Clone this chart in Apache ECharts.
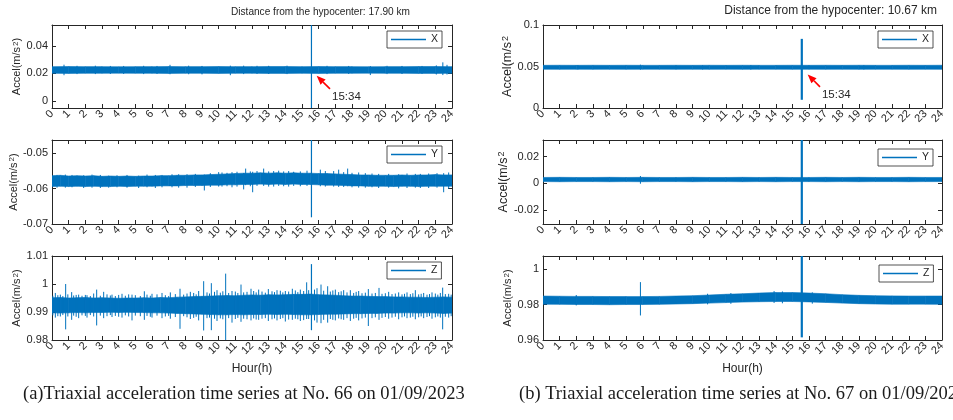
<!DOCTYPE html>
<html><head><meta charset="utf-8">
<script src="https://cdn.jsdelivr.net/npm/echarts@6/dist/echarts.min.js"></script>
<style>html,body{margin:0;padding:0;background:#fff}#c{width:953px;height:420px}</style>
</head><body><div id="c"></div>
<script>
// ---------- data ----------
const hourTickLabels = ['0','1','2','3','4','5','6','7','8','9','10','11','12','13','14','15','16','17','18','19','20','21','22','23','24'];
const hourly = [0,1,2,3,4,5,6,7,8,9,10,11,12,13,14,15,16,17,18,19,20,21,22,23,24];
const halfHourly = [0,0.5,1,1.5,2,2.5,3,3.5,4,4.5,5,5.5,6,6.5,7,7.5,8,8.5,9,9.5,10,10.5,11,11.5,12,12.5,13,13.5,14,14.5,15,15.5,16,16.5,17,17.5,18,18.5,19,19.5,20,20.5,21,21.5,22,22.5,23,23.5,24];

// (a) No. 66 — X
const aXLo = [0.0201,0.0200,0.0201,0.0201,0.0202,0.0201,0.0201,0.0200,0.0201,0.0201,0.0200,0.0201,0.0201,0.0200,0.0200,0.0201,0.0200,0.0201,0.0201,0.0202,0.0201,0.0201,0.0200,0.0200,0.0201];
const aXHi = [0.0249,0.0250,0.0249,0.0249,0.0248,0.0249,0.0249,0.0250,0.0249,0.0249,0.0250,0.0249,0.0249,0.0250,0.0250,0.0249,0.0250,0.0249,0.0249,0.0248,0.0249,0.0249,0.0250,0.0250,0.0249];
const aXSpikes = [[0.72,0.0187,0.0263],[1.5,0.0195,0.0255],[2.6,0.0195,0.0256],[3.5,0.0196,0.0254],[4.3,0.0196,0.0254],[5.5,0.0195,0.0255],[6.3,0.0196,0.0254],[7.08,0.0194,0.0262],[8.2,0.0194,0.0256],[9.0,0.0193,0.0254],[10.7,0.0187,0.0256],[11.5,0.0195,0.0256],[12.3,0.0196,0.0255],[13.0,0.0196,0.0255],[14.1,0.0195,0.0256],[15.567,-0.005,0.055],[16.5,0.0195,0.0255],[17.8,0.0196,0.0254],[19.1,0.0188,0.0253],[20.1,0.0195,0.0255],[21.0,0.0196,0.0254],[22.2,0.0196,0.0254],[23.06,0.0192,0.0258],[23.45,0.0188,0.0280],[23.7,0.0192,0.0262]];
// (a) No. 66 — Y
const aYHi = [-0.0563,-0.0562,-0.0564,-0.0563,-0.0564,-0.0563,-0.0565,-0.0564,-0.0565,-0.0564,-0.0565,-0.0564,-0.0564,-0.0563,-0.0563,-0.0562,-0.0562,-0.0561,-0.0561,-0.0560,-0.0559,-0.0558,-0.0557,-0.0556,-0.0556,-0.0555,-0.0556,-0.0555,-0.0556,-0.0555,-0.0556,-0.0556,-0.0557,-0.0557,-0.0558,-0.0559,-0.0560,-0.0561,-0.0561,-0.0562,-0.0562,-0.0562,-0.0561,-0.0562,-0.0561,-0.0561,-0.0560,-0.0561,-0.0561];
const aYLo = [-0.0594,-0.0593,-0.0594,-0.0593,-0.0594,-0.0593,-0.0594,-0.0594,-0.0593,-0.0594,-0.0593,-0.0593,-0.0593,-0.0592,-0.0592,-0.0592,-0.0591,-0.0591,-0.0591,-0.0590,-0.0590,-0.0589,-0.0589,-0.0588,-0.0588,-0.0587,-0.0588,-0.0587,-0.0588,-0.0587,-0.0588,-0.0588,-0.0589,-0.0590,-0.0590,-0.0591,-0.0592,-0.0592,-0.0593,-0.0593,-0.0593,-0.0594,-0.0593,-0.0593,-0.0594,-0.0593,-0.0593,-0.0593,-0.0593];
const aYSpikes = [[0.3,-0.0597,-0.0561],[0.8,-0.0597,-0.0560],[1.2,-0.0596,-0.0561],[1.9,-0.0598,-0.0562],[2.4,-0.0597,-0.0560],[2.9,-0.0598,-0.0561],[3.4,-0.0597,-0.0563],[3.9,-0.0596,-0.0562],[4.5,-0.0597,-0.0561],[5.2,-0.0598,-0.0563],[5.7,-0.0596,-0.0560],[6.2,-0.0598,-0.0561],[6.6,-0.0596,-0.0561],[7.2,-0.0596,-0.0559],[7.6,-0.0597,-0.0559],[8.1,-0.0597,-0.0559],[8.6,-0.0595,-0.0558],[9.14,-0.0605,-0.0560],[9.5,-0.0595,-0.0556],[10.0,-0.0594,-0.0553],[10.2,-0.0594,-0.0554],[10.5,-0.0593,-0.0555],[10.8,-0.0596,-0.0553],[11.1,-0.0594,-0.0552],[11.5,-0.0602,-0.0556],[11.62,-0.0590,-0.0543],[11.9,-0.0593,-0.0551],[12.04,-0.0610,-0.0552],[12.3,-0.0592,-0.0550],[12.7,-0.0592,-0.0543],[13.0,-0.0594,-0.0551],[13.3,-0.0594,-0.0550],[13.6,-0.0592,-0.0549],[13.9,-0.0593,-0.0551],[14.2,-0.0594,-0.0550],[14.5,-0.0592,-0.0552],[14.9,-0.0593,-0.0551],[15.3,-0.0592,-0.0549],[15.567,-0.0681,-0.0462],[16.1,-0.0593,-0.0546],[16.4,-0.0594,-0.0550],[16.9,-0.0594,-0.0550],[17.2,-0.0595,-0.0546],[17.5,-0.0595,-0.0553],[17.74,-0.0593,-0.0543],[18.0,-0.0596,-0.0555],[18.4,-0.0597,-0.0554],[18.8,-0.0597,-0.0556],[19.2,-0.0596,-0.0557],[19.6,-0.0598,-0.0558],[20.2,-0.0597,-0.0558],[20.8,-0.0599,-0.0559],[21.3,-0.0598,-0.0557],[21.8,-0.0597,-0.0558],[22.1,-0.0598,-0.0558],[22.6,-0.0598,-0.0557],[23.1,-0.0597,-0.0556],[23.5,-0.0610,-0.0556],[23.8,-0.0600,-0.0554]];
// (a) No. 66 — Z
const aZHi = [0.9951,0.9952,0.9950,0.9951,0.9952,0.9950,0.9951,0.9950,0.9949,0.9950,0.9950,0.9951,0.9950,0.9952,0.9951,0.9953,0.9954,0.9955,0.9956,0.9957,0.9958,0.9959,0.9958,0.9960,0.9961,0.9960,0.9962,0.9961,0.9962,0.9963,0.9963,0.9964,0.9962,0.9961,0.9960,0.9958,0.9957,0.9957,0.9956,0.9955,0.9955,0.9954,0.9954,0.9953,0.9953,0.9952,0.9953,0.9954,0.9953];
const aZLo = [0.9897,0.9896,0.9897,0.9898,0.9897,0.9898,0.9898,0.9899,0.9898,0.9899,0.9898,0.9898,0.9897,0.9897,0.9896,0.9895,0.9894,0.9893,0.9892,0.9891,0.9890,0.9890,0.9891,0.9890,0.9891,0.9891,0.9892,0.9891,0.9892,0.9891,0.9890,0.9890,0.9891,0.9892,0.9892,0.9893,0.9894,0.9894,0.9895,0.9895,0.9896,0.9896,0.9897,0.9897,0.9896,0.9897,0.9896,0.9895,0.9896];
const aZSpikes = [[0.05,0.9888,0.9958],[0.2,0.9880,0.9968],[0.35,0.9885,0.9960],[0.5,0.9884,0.9962],[0.65,0.9889,0.9957],[0.82,0.9838,1.0000],[0.95,0.9884,0.9963],[1.18,0.9872,0.9971],[1.3,0.9887,0.9959],[1.45,0.9883,0.9961],[1.6,0.9878,0.9962],[1.8,0.9888,0.9958],[2.0,0.9886,0.9961],[2.1,0.9880,0.9960],[2.3,0.9889,0.9957],[2.5,0.9884,0.9966],[2.68,0.9852,0.9980],[2.9,0.9887,0.9958],[3.1,0.9878,0.9972],[3.3,0.9885,0.9963],[3.5,0.9889,0.9959],[3.6,0.9882,0.9962],[3.8,0.9886,0.9957],[4.0,0.9883,0.9961],[4.2,0.9880,0.9965],[4.4,0.9888,0.9958],[4.6,0.9884,0.9963],[4.8,0.9870,0.9962],[5.0,0.9887,0.9960],[5.3,0.9885,0.9957],[5.54,0.9872,0.9974],[5.7,0.9886,0.9962],[5.9,0.9883,0.9958],[6.0,0.9880,0.9965],[6.3,0.9887,0.9963],[6.6,0.9878,0.9968],[6.8,0.9884,0.9960],[7.0,0.9886,0.9957],[7.1,0.9876,0.9970],[7.4,0.9882,0.9964],[7.68,0.9840,0.9983],[7.9,0.9885,0.9962],[8.1,0.9881,0.9966],[8.3,0.9875,0.9972],[8.5,0.9879,0.9968],[8.65,0.9883,0.9963],[8.8,0.9870,0.9975],[9.1,0.9834,1.0010],[9.3,0.9878,0.9970],[9.45,0.9880,0.9966],[9.56,0.9835,1.0003],[9.75,0.9876,0.9972],[9.9,0.9868,0.9978],[10.1,0.9877,0.9969],[10.25,0.9874,0.9974],[10.42,0.9800,1.0037],[10.6,0.9878,0.9968],[10.8,0.9862,0.9975],[11.0,0.9875,0.9973],[11.15,0.9879,0.9968],[11.34,0.9865,0.9998],[11.5,0.9876,0.9970],[11.7,0.9874,0.9972],[11.94,0.9870,0.9983],[12.1,0.9877,0.9975],[12.25,0.9873,0.9970],[12.4,0.9872,0.9980],[12.6,0.9876,0.9973],[12.8,0.9878,0.9969],[12.98,0.9868,0.9982],[13.2,0.9874,0.9974],[13.35,0.9877,0.9971],[13.5,0.9870,0.9978],[13.7,0.9875,0.9976],[13.85,0.9878,0.9970],[14.0,0.9866,0.9975],[14.2,0.9873,0.9973],[14.42,0.9872,0.9983],[14.6,0.9876,0.9977],[14.75,0.9874,0.9971],[14.9,0.9868,0.9980],[15.1,0.9871,0.9975],[15.28,0.9875,1.0006],[15.4,0.9875,0.9978],[15.567,0.9835,1.0071],[15.75,0.9870,0.9980],[15.9,0.9862,0.9985],[16.14,0.9860,0.9998],[16.3,0.9872,0.9976],[16.54,0.9862,0.9992],[16.7,0.9875,0.9973],[16.85,0.9872,0.9977],[17.0,0.9870,0.9980],[17.2,0.9877,0.9971],[17.35,0.9874,0.9974],[17.5,0.9872,0.9978],[17.7,0.9878,0.9970],[17.9,0.9868,0.9978],[18.1,0.9876,0.9968],[18.25,0.9879,0.9972],[18.4,0.9870,0.9975],[18.6,0.9877,0.9967],[18.8,0.9880,0.9969],[18.98,0.9850,0.9982],[19.2,0.9878,0.9966],[19.4,0.9881,0.9968],[19.62,0.9872,0.9986],[19.8,0.9879,0.9965],[20.0,0.9882,0.9967],[20.2,0.9876,0.9972],[20.4,0.9880,0.9964],[20.6,0.9883,0.9966],[20.8,0.9874,0.9970],[21.0,0.9881,0.9963],[21.15,0.9884,0.9965],[21.3,0.9878,0.9970],[21.5,0.9880,0.9964],[21.65,0.9883,0.9967],[21.8,0.9874,0.9978],[22.0,0.9881,0.9963],[22.15,0.9884,0.9965],[22.3,0.9878,0.9968],[22.5,0.9882,0.9962],[22.65,0.9885,0.9964],[22.8,0.9876,0.9970],[23.0,0.9881,0.9966],[23.15,0.9884,0.9962],[23.3,0.9880,0.9968],[23.44,0.9838,0.9987],[23.6,0.9883,0.9964],[23.8,0.9880,0.9965],[23.95,0.9885,0.9962]];

// (b) No. 67 — X
const bXLo = [0.0467,0.0466,0.0467,0.0466,0.0467,0.0466,0.0467,0.0467,0.0466,0.0467,0.0466,0.0467,0.0466,0.0467,0.0467,0.0466,0.0467,0.0466,0.0467,0.0466,0.0467,0.0467,0.0466,0.0467,0.0466];
const bXHi = [0.0514,0.0515,0.0514,0.0515,0.0514,0.0515,0.0514,0.0514,0.0515,0.0514,0.0515,0.0514,0.0515,0.0514,0.0514,0.0515,0.0514,0.0515,0.0514,0.0515,0.0514,0.0514,0.0515,0.0514,0.0515];
const bXSpikes = [[2.1,0.0464,0.0517],[5.86,0.0462,0.0522],[9.6,0.0464,0.0516],[12.5,0.0463,0.0517],[15.567,0.0099,0.0833],[19.3,0.0464,0.0516]];
// (b) No. 67 — Y
const bYLo = [0.0013,0.0012,0.0013,0.0013,0.0012,0.0013,0.0012,0.0013,0.0013,0.0012,0.0013,0.0013,0.0012,0.0013,0.0012,0.0013,0.0013,0.0012,0.0013,0.0012,0.0013,0.0013,0.0012,0.0013,0.0013];
const bYHi = [0.0044,0.0045,0.0044,0.0044,0.0045,0.0044,0.0045,0.0044,0.0044,0.0045,0.0044,0.0044,0.0045,0.0044,0.0045,0.0044,0.0044,0.0045,0.0044,0.0045,0.0044,0.0044,0.0045,0.0044,0.0044];
const bYSpikes = [[5.86,-0.0003,0.0055],[15.567,-0.0305,0.0325]];
// (b) No. 67 — Z
const bZHi = [0.9849,0.9848,0.9847,0.9847,0.9846,0.9846,0.9846,0.9847,0.9849,0.9851,0.9855,0.9859,0.9862,0.9866,0.9869,0.9869,0.9866,0.9862,0.9857,0.9853,0.9851,0.9850,0.9849,0.9849,0.9849];
const bZLo = [0.9803,0.9802,0.9801,0.9801,0.9800,0.9801,0.9801,0.9802,0.9804,0.9806,0.9809,0.9812,0.9815,0.9817,0.9818,0.9818,0.9816,0.9813,0.9809,0.9806,0.9804,0.9803,0.9803,0.9803,0.9802];
const bZSpikes = [[2.0,0.9796,0.9855],[5.86,0.9739,0.9928],[9.9,0.9802,0.9862],[11.3,0.9805,0.9866],[13.9,0.9810,0.9877],[14.4,0.9808,0.9875],[15.567,0.9615,1.0076],[16.2,0.9806,0.9870]];

// axis ranges and y tick values
const aXRange = [-0.005, 0.055], aXTicks = [0, 0.02, 0.04];
const aYRange = [-0.07, -0.0462], aYTicks = [-0.07, -0.06, -0.05];
const aZRange = [0.98, 1.01], aZTicks = [0.98, 0.99, 1, 1.01];
const bXRange = [0, 0.1], bXTicks = [0, 0.05, 0.1];
const bYRange = [-0.0305, 0.0325], bYTicks = [-0.02, 0, 0.02];
const bZRange = [0.96, 1.0076], bZTicks = [0.96, 0.98, 1];

// event annotation: [tail hour, tail value, tip hour, tip value]
const eventLabel = '15:34';
const aXArrow = [16.68, 0.0088, 15.88, 0.0183];
const bXArrow = [16.66, 0.0254, 15.92, 0.0405];

const titleA = 'Distance from the hypocenter: 17.90 km';
const titleB = 'Distance from the hypocenter: 10.67 km';
const captionA = '(a)Triaxial acceleration time series at No. 66 on 01/09/2023';
const captionB = '(b) Triaxial acceleration time series at No. 67 on 01/09/2023';

// ---------- chart ----------
const BLUE = '#0072BD';
const INK = '#262626';
const SANS = 'Liberation Sans, Arial, sans-serif';

const colLeft = [52, 543], colWidth = [400, 399];
const rowTop = [25, 140, 256], rowHeight = [83, 84, 84];
const legendPos = [[[387,31],[387,146],[387,262]], [[878,31],[878,149],[879,265]]];

const panels = [
  {c:0,r:0,name:'X',t:hourly,lo:aXLo,hi:aXHi,sp:aXSpikes,range:aXRange,ticks:aXTicks,yName:'Accel(m/s{s|2})',ySize:11,arrow:aXArrow,evW:1.2},
  {c:0,r:1,name:'Y',t:halfHourly,lo:aYLo,hi:aYHi,sp:aYSpikes,range:aYRange,ticks:aYTicks,yName:'Accel(m/s{s|2})',ySize:11,evW:1.2},
  {c:0,r:2,name:'Z',t:halfHourly,lo:aZLo,hi:aZHi,sp:aZSpikes,range:aZRange,ticks:aZTicks,yName:'Accel(m/s{s|2})',ySize:11,evW:1.2},
  {c:1,r:0,name:'X',t:hourly,lo:bXLo,hi:bXHi,sp:bXSpikes,range:bXRange,ticks:bXTicks,yName:'Accel(m/s{s|2}',ySize:12.5,arrow:bXArrow,evW:2.2},
  {c:1,r:1,name:'Y',t:hourly,lo:bYLo,hi:bYHi,sp:bYSpikes,range:bYRange,ticks:bYTicks,yName:'Accel(m/s{s|2}',ySize:12.5,evW:2.2},
  {c:1,r:2,name:'Z',t:hourly,lo:bZLo,hi:bZHi,sp:bZSpikes,range:bZRange,ticks:bZTicks,yName:'Accel(m/s{s|2})',ySize:11,evW:2.2}
];

function fmt(v){ return String(Math.round(v*1e6)/1e6); }

const grid=[], xAxis=[], yAxis=[], series=[], legend=[];
panels.forEach((p,i)=>{
  grid.push({left:colLeft[p.c], top:rowTop[p.r], width:colWidth[p.c], height:rowHeight[p.r], outerBoundsMode:'none'});
  const base = {gridIndex:i, type:'value', min:0, max:24, interval:1,
    axisLine:{show:true,onZero:false,lineStyle:{color:INK,width:1}},
    axisTick:{show:true,inside:true,length:4,lineStyle:{color:INK,width:1}},
    splitLine:{show:false}};
  xAxis.push(Object.assign({}, base, {position:'bottom',
    axisLabel:{show:true,rotate:45,margin:4,fontSize:11,color:INK,fontFamily:SANS,formatter:v=>hourTickLabels[Math.round(v)]},
    name: p.r===2 ? 'Hour(h)' : '', nameLocation:'middle', nameGap:23,
    nameTextStyle:{fontSize:12,color:INK,fontFamily:SANS}}));
  xAxis.push(Object.assign({}, base, {position:'top', axisLabel:{show:false}}));
  const ybase = {gridIndex:i, type:'value', min:p.range[0], max:p.range[1],
    axisLine:{show:true,onZero:false,lineStyle:{color:INK,width:1}},
    axisTick:{show:true,inside:true,length:4,customValues:p.ticks,lineStyle:{color:INK,width:1}},
    splitLine:{show:false}};
  yAxis.push(Object.assign({}, ybase, {position:'left',
    axisLabel:{show:true,customValues:p.ticks,formatter:fmt,margin:4,fontSize:11,color:INK,fontFamily:SANS},
    name:p.yName, nameLocation:'middle', nameGap:26, nameRotate:90,
    nameTextStyle:{fontSize:p.ySize,color:INK,fontFamily:SANS,
      rich:{s:{fontSize:Math.round(p.ySize*0.75),color:INK,fontFamily:SANS,verticalAlign:'top',padding:[0,0,0,1]}}}}));
  yAxis.push(Object.assign({}, ybase, {position:'right', axisLabel:{show:false}}));

  const bandData=[];
  for(let k=0;k<p.t.length-1;k++) bandData.push([p.t[k],p.lo[k],p.hi[k],p.t[k+1],p.lo[k+1],p.hi[k+1]]);
  series.push({type:'custom', name:p.name, xAxisIndex:2*i, yAxisIndex:2*i, color:BLUE, clip:true, silent:true,
    data:bandData, encode:{x:[0,3], y:[1,2,4,5]},
    renderItem:(params,api)=>{
      const a=api.coord([api.value(0),api.value(2)]), b=api.coord([api.value(3),api.value(5)]);
      const c=api.coord([api.value(3),api.value(4)]), d=api.coord([api.value(0),api.value(1)]);
      return {type:'polygon', shape:{points:[a,b,c,d]}, style:{fill:BLUE,stroke:BLUE,lineWidth:0.6}};
    }});
  series.push({type:'custom', name:p.name+'-spikes', xAxisIndex:2*i, yAxisIndex:2*i, color:BLUE, clip:true, silent:true,
    data:p.sp, encode:{x:0, y:[1,2]},
    renderItem:(params,api)=>{
      const t=api.value(0), p0=api.coord([t,api.value(1)]), p1=api.coord([t,api.value(2)]);
      const w = Math.abs(t-15.567)<0.01 ? p.evW : 1;
      return {type:'line', shape:{x1:p0[0],y1:p0[1],x2:p1[0],y2:p1[1]}, style:{stroke:BLUE,lineWidth:w}};
    }});
  if(p.arrow){
    series.push({type:'custom', name:'event', xAxisIndex:2*i, yAxisIndex:2*i, color:'#FF0000', silent:true, z:5,
      data:[p.arrow], encode:{x:[0,2], y:[1,3]},
      renderItem:(params,api)=>{
        const p0=api.coord([api.value(0),api.value(1)]), p1=api.coord([api.value(2),api.value(3)]);
        const dx=p1[0]-p0[0], dy=p1[1]-p0[1], L=Math.hypot(dx,dy), ux=dx/L, uy=dy/L;
        const hl=9, hw=3.6, bx=p1[0]-ux*hl, by=p1[1]-uy*hl;
        return {type:'group', children:[
          {type:'line', shape:{x1:p0[0],y1:p0[1],x2:bx,y2:by}, style:{stroke:'#FF0000',lineWidth:1.6}},
          {type:'polygon', shape:{points:[[p1[0],p1[1]],[bx-uy*hw,by+ux*hw],[bx+uy*hw,by-ux*hw]]}, style:{fill:'#FF0000'}},
          {type:'text', x:p0[0]+2, y:p0[1]+8, style:{text:eventLabel, fill:INK, fontSize:11.5, fontFamily:SANS, align:'left', verticalAlign:'middle'}}
        ]};
      }});
  }
  const lp = legendPos[p.c][p.r];
  legend.push({left:lp[0], top:lp[1], data:[p.name], icon:'rect', itemWidth:35, itemHeight:1.6,
    padding:[3,4,3,4], borderColor:INK, borderWidth:0.8, borderRadius:0, backgroundColor:'#fff',
    selectedMode:false, textStyle:{fontSize:10.5, color:INK, fontFamily:SANS, lineHeight:10}});
});

const chart = echarts.init(document.getElementById('c'), null, {renderer:'canvas'});
chart.setOption({
  animation:false,
  backgroundColor:'#fff',
  title:[
    {text:titleA, left:231, top:7, padding:0, textStyle:{fontSize:10.1, fontWeight:'normal', color:INK, fontFamily:SANS}},
    {text:titleB, right:16, top:5, padding:0, textStyle:{fontSize:12, fontWeight:'normal', color:INK, fontFamily:SANS}},
    {text:captionA, left:23, top:385, padding:0, textStyle:{fontSize:18.5, fontWeight:'normal', color:'#1a1a1a', fontFamily:'Liberation Serif, Times New Roman, serif'}},
    {text:captionB, left:519, top:385, padding:0, textStyle:{fontSize:18.5, fontWeight:'normal', color:'#1a1a1a', fontFamily:'Liberation Serif, Times New Roman, serif'}}
  ],
  grid, xAxis, yAxis, series, legend
});
</script></body></html>
